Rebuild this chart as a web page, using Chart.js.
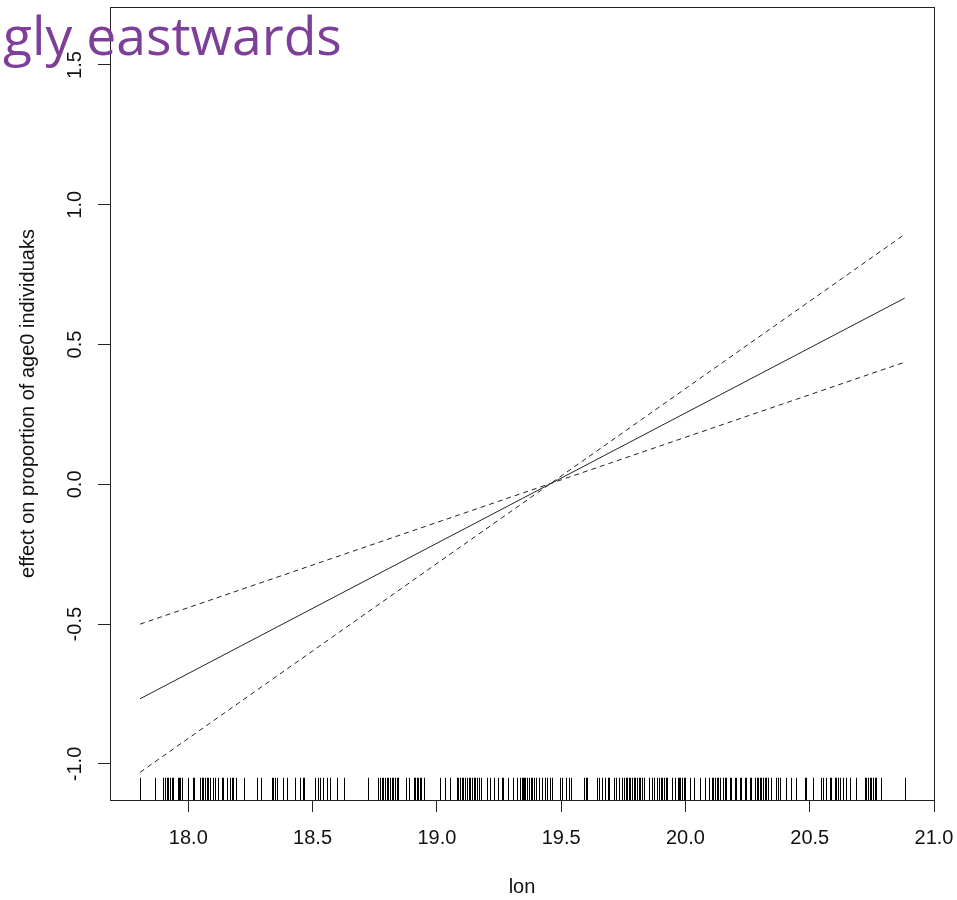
<!DOCTYPE html>
<html>
<head>
<meta charset="utf-8">
<title>lon effect</title>
<script src="https://cdn.jsdelivr.net/npm/chart.js@4.4.1/dist/chart.umd.min.js"></script>
<style>
  html, body { margin:0; padding:0; background:#fff; }
  #wrap { position:relative; width:957px; height:900px; }
  #plot { position:absolute; left:0; top:0; }
  #caption {
    position:absolute; left:3px; top:8px;
    font-family:'Open Sans', 'Noto Sans', sans-serif; font-size:53.5px; line-height:1;
    color:#7e3f98; white-space:nowrap; pointer-events:none;
  }
</style>
</head>
<body>
<div id="wrap">
  <canvas id="plot" width="957" height="900"></canvas>
  <div id="caption">gly eastwards</div>
</div>
<script>
// fitted smooth for lon (linear) and its two confidence bounds
const lonEnds   = [17.806, 20.882];
const fitVals   = [-0.767, 0.666];
const bandA     = [-0.500, 0.437];
const bandB     = [-1.030, 0.894];

const xTicks = [18.0, 18.5, 19.0, 19.5, 20.0, 20.5, 21.0];
const yTicks = [-1.0, -0.5, 0.0, 0.5, 1.0, 1.5];

// observed lon values (rug)
const rugLon = [
  17.806, 17.866, 17.899, 17.906, 17.913, 17.920, 17.926, 17.933, 17.940, 17.957,
  17.963, 17.968, 17.973, 18.000, 18.020, 18.024, 18.047, 18.054, 18.060, 18.067,
  18.074, 18.080, 18.087, 18.101, 18.107, 18.121, 18.134, 18.141, 18.157, 18.168,
  18.175, 18.181, 18.192, 18.224, 18.277, 18.292, 18.335, 18.342, 18.349, 18.355,
  18.380, 18.396, 18.428, 18.449, 18.462, 18.466, 18.509, 18.523, 18.530, 18.543,
  18.557, 18.570, 18.597, 18.627, 18.721, 18.764, 18.771, 18.778, 18.784, 18.791,
  18.798, 18.804, 18.811, 18.818, 18.824, 18.831, 18.838, 18.844, 18.877, 18.886,
  18.909, 18.913, 18.920, 18.926, 18.933, 18.937, 18.949, 19.014, 19.032, 19.051,
  19.080, 19.087, 19.094, 19.101, 19.107, 19.114, 19.121, 19.128, 19.134, 19.141,
  19.148, 19.154, 19.161, 19.168, 19.177, 19.201, 19.214, 19.228, 19.244, 19.261,
  19.268, 19.288, 19.308, 19.322, 19.334, 19.341, 19.346, 19.350, 19.354, 19.363,
  19.370, 19.377, 19.383, 19.390, 19.397, 19.410, 19.423, 19.437, 19.444, 19.457,
  19.464, 19.497, 19.504, 19.518, 19.531, 19.538, 19.591, 19.598, 19.604, 19.645,
  19.651, 19.665, 19.676, 19.689, 19.694, 19.712, 19.719, 19.732, 19.745, 19.752,
  19.759, 19.765, 19.772, 19.779, 19.785, 19.792, 19.799, 19.805, 19.812, 19.819,
  19.826, 19.832, 19.852, 19.866, 19.873, 19.886, 19.893, 19.900, 19.906, 19.913,
  19.920, 19.926, 19.946, 19.960, 19.970, 19.976, 19.980, 19.986, 19.993, 20.000,
  20.020, 20.033, 20.060, 20.080, 20.094, 20.105, 20.111, 20.118, 20.125, 20.131,
  20.138, 20.151, 20.158, 20.165, 20.178, 20.185, 20.198, 20.205, 20.218, 20.225,
  20.239, 20.245, 20.259, 20.265, 20.279, 20.286, 20.292, 20.299, 20.306, 20.312,
  20.319, 20.326, 20.332, 20.346, 20.366, 20.372, 20.379, 20.406, 20.426, 20.446,
  20.480, 20.487, 20.513, 20.547, 20.553, 20.567, 20.580, 20.587, 20.600, 20.607,
  20.614, 20.620, 20.634, 20.647, 20.661, 20.688, 20.721, 20.728, 20.734, 20.741,
  20.748, 20.754, 20.761, 20.768, 20.788, 20.882
];

const ink = '#222';
const font = { family:"'Liberation Sans', Arial, sans-serif", size:20 };

const pts = ys => lonEnds.map((x, i) => ({ x, y: ys[i] }));

// box around the plot region + rug along the bottom
const frame = {
  id:'frame',
  afterDatasetsDraw(chart) {
    const { ctx, chartArea:a, scales } = chart;
    ctx.save();
    ctx.strokeStyle = '#000';
    ctx.lineWidth = 1;
    const len = (a.bottom - a.top) * 0.028;
    ctx.beginPath();
    rugLon.forEach(v => {
      const px = Math.round(scales.x.getPixelForValue(v)) + 0.5;
      ctx.moveTo(px, a.bottom);
      ctx.lineTo(px, a.bottom - len);
    });
    ctx.stroke();
    ctx.strokeStyle = ink;
    ctx.strokeRect(Math.round(a.left) + 0.5, Math.round(a.top) + 0.5,
                   Math.round(a.right - a.left), Math.round(a.bottom - a.top));
    ctx.restore();
  }
};

new Chart(document.getElementById('plot').getContext('2d'), {
  type:'scatter',
  data:{
    datasets:[
      { data:pts(fitVals), showLine:true, borderColor:ink, borderWidth:1, pointRadius:0 },
      { data:pts(bandA), showLine:true, borderColor:ink, borderWidth:1, borderDash:[5,4], pointRadius:0 },
      { data:pts(bandB), showLine:true, borderColor:ink, borderWidth:1, borderDash:[5,4], pointRadius:0 }
    ]
  },
  options:{
    responsive:false, animation:false, devicePixelRatio:1,
    layout:{ padding:{ top:7, right:23, left:0, bottom:0 } },
    plugins:{ legend:{ display:false }, tooltip:{ enabled:false } },
    scales:{
      x:{
        type:'linear', min:17.685, max:21.0,
        afterBuildTicks:s => { s.ticks = xTicks.map(v => ({ value:v })); },
        afterFit:s => { s.height = 100; s.paddingLeft = 0; s.paddingRight = 0; },
        border:{ display:false },
        grid:{ drawOnChartArea:false, tickLength:12, color:ink },
        ticks:{ color:'#111', font, padding:14, maxRotation:0, autoSkip:false, callback:v => v.toFixed(1) },
        title:{ display:true, text:'lon', color:'#111', font, padding:{ bottom:1 } }
      },
      y:{
        type:'linear', min:-1.129, max:1.7074,
        afterBuildTicks:s => { s.ticks = yTicks.map(v => ({ value:v })); },
        afterFit:s => { s.width = 110; s.paddingTop = 0; s.paddingBottom = 0; },
        border:{ display:false },
        grid:{ drawOnChartArea:false, tickLength:12, color:ink },
        ticks:{ color:'#111', font, padding:5, minRotation:90, maxRotation:90, crossAlign:'center', autoSkip:false, callback:v => v.toFixed(1) },
        title:{ display:true, text:'effect on proportion of age0 individuaks', color:'#111', font, padding:{ top:16 } }
      }
    }
  },
  plugins:[frame]
});
</script>
</body>
</html>
